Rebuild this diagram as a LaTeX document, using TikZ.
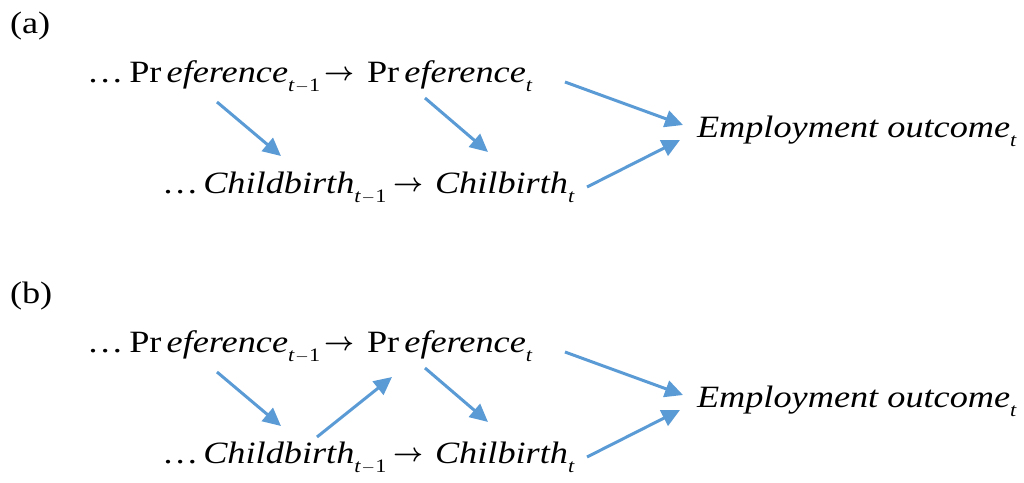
\documentclass[tikz,border=0pt]{standalone}
\usepackage{fontspec}
\usepackage{graphicx}
\setmainfont{Liberation Serif}[FakeStretch=1.17]
\usetikzlibrary{calc,arrows.meta}
\definecolor{linkblue}{RGB}{91,155,213}
\newcommand\idx[1]{\raisebox{-9pt}{\fontsize{19}{19}\selectfont #1}}
\newcommand\mminus{\hspace{0.5pt}$-$\hspace{0.5pt}}
\newcommand\rarr{\raisebox{1.5pt}{\resizebox{30pt}{!}{\boldmath$\rightarrow$}}}
\tikzset{
  txt/.style={anchor=base west,inner sep=0pt,outer sep=0pt,
    font=\fontsize{31}{36}\selectfont},
  conn/.style={draw=linkblue,line width=3pt,
    -{Triangle[length=18pt,width=17pt]}}
}
\begin{document}
\begin{tikzpicture}[x=1pt,y=-1pt]
\useasboundingbox (0,0) rectangle (1024,482);
\foreach \p/\dy in {a/0,b/270}{
  % panel label and the two chains of variables
  \node[txt] (lab\p) at (10,33+\dy) {(\p)};
  \node[txt] (pref1\p) at (87,82+\dy) {…\hspace{6pt}Pr\,\textit{eference}\idx{\textit{t}\mminus1}};
  \node[txt] (arrp\p) at (324,82+\dy) {\rarr};
  \node[txt] (pref2\p) at (367,82+\dy) {Pr\,\textit{eference}\idx{\textit{t}}};
  \node[txt] (birth1\p) at (162,193+\dy) {…\hspace{5pt}\textit{Childbirth}\idx{\textit{t}\mminus1}};
  \node[txt] (arrc\p) at (393,193+\dy) {\rarr};
  \node[txt] (birth2\p) at (435,193+\dy) {\textit{Chilbirth}\idx{\textit{t}}};
  \node[txt] (emp\p) at (697,137+\dy) {\textit{Employment outcome}\idx{\textit{t}}};
  % causal links
  \draw[conn] ($(pref1\p.base west)+(130,20)$) -- ($(birth1\p.base west)+(119,-37)$);
  \draw[conn] ($(pref2\p.base west)+(58,16)$) -- ($(birth2\p.base west)+(53,-41)$);
  \draw[conn] ($(pref2\p.base west)+(198,0)$) -- ($(emp\p.base west)+(-14,-12)$);
  \draw[conn] ($(birth2\p.base west)+(152,-6)$) -- ($(emp\p.base west)+(-17,3)$);
}
% feedback from past childbirth to current preference
\draw[conn] ($(birth1b.base west)+(155,-26)$) -- ($(pref2b.base west)+(25,25)$);
\end{tikzpicture}
\end{document}
